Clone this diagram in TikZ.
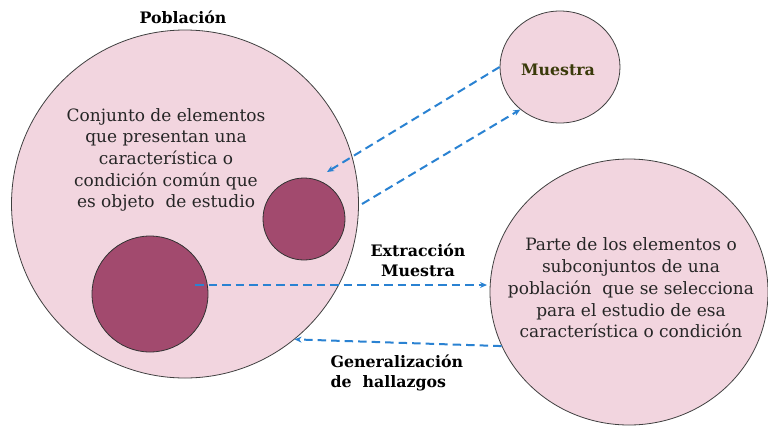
\documentclass[tikz,border=0pt]{standalone}
\usepackage{fontspec}
\setmainfont{DejaVu Serif}
\usetikzlibrary{shapes.geometric,arrows.meta}
\definecolor{pinkfill}{HTML}{F2D5DF}
\definecolor{darkfill}{HTML}{A24A6E}
\definecolor{arrowblue}{HTML}{2A82D2}
\definecolor{olive}{HTML}{3A3A0A}
\tikzset{
  bigcirc/.style={ellipse, draw=black!75, line width=0.8pt, fill=pinkfill, inner sep=0pt},
  darkcirc/.style={circle, draw=black!80, line width=0.8pt, fill=darkfill, inner sep=0pt},
  bodytext/.style={align=center, font=\fontsize{17}{21.7}\selectfont, text=black!85},
  labeltext/.style={font=\fontsize{15.8}{20}\selectfont\bfseries, text=black},
  flow/.style={draw=arrowblue, line width=2pt, dash pattern=on 8.5pt off 5pt, -{Stealth[length=7pt,width=6pt]}},
}
\begin{document}
\begin{tikzpicture}[x=1pt,y=-1pt]
\useasboundingbox (0,0) rectangle (768,426);
% circles
\node[bigcirc, minimum width=347pt, minimum height=348pt] (P) at (185,204) {};
\node[bigcirc, minimum width=120pt, minimum height=112pt] (M) at (560,67) {};
\node[bigcirc, minimum width=278pt, minimum height=266pt] (R) at (629,292) {};
\node[darkcirc, minimum size=82pt] (S1) at (304,219) {};
\node[darkcirc, minimum size=116pt] (S2) at (150,294) {};
% texts
\node[labeltext] (tP) at (183,17) {Población};
\node[labeltext, text=olive] (tM) at (558,70) {Muestra};
\node[bodytext] (tPd) at (166,160) {Conjunto de elementos\\que presentan una\\característica o\\condición común que\\es objeto\ \ de estudio};
\node[bodytext] (tRd) at (631,288) {Parte de los elementos o\\subconjuntos de una\\población\ \ que se selecciona\\para el estudio de esa\\característica o condición};
\node[labeltext, align=center] (tE) at (418,260) {Extracción\\Muestra};
\node[labeltext, align=left, anchor=west] (tG) at (327,373) {Generalización\\de\ \ hallazgos};
% connector ends
\coordinate (a1) at (327,172);
\coordinate (b2) at (362,204);
\coordinate (a3s) at (195,285);
\coordinate (a3e) at (487,285);
% connectors
\draw[flow] (M.west) -- (a1);
\draw[flow] (b2) -- (M.227);
\draw[flow] (a3s) -- (a3e);
\draw[flow] (R.203) -- (P.-51);
\end{tikzpicture}
\end{document}
